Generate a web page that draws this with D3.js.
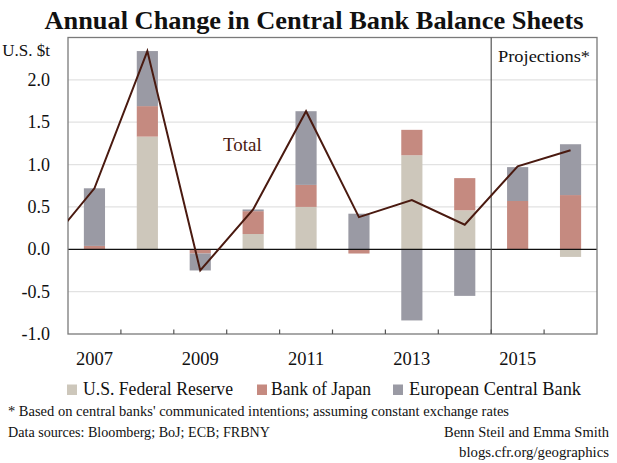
<!DOCTYPE html>
<html>
<head>
<meta charset="utf-8">
<script src="https://cdn.jsdelivr.net/npm/d3@7"></script>
<style>
  html, body { margin: 0; padding: 0; background: #fff; }
  svg { display: block; font-family: "Liberation Serif", "DejaVu Serif", serif; }
</style>
</head>
<body>
<svg id="chart" width="617" height="463"></svg>
<script>
// ---- data (US$ trillions, annual change) ----
const years = [2007, 2008, 2009, 2010, 2011, 2012, 2013, 2014, 2015, 2016];
const fedValues = [0.00, 1.33, 0.00, 0.18, 0.50, 0.00, 1.11, 0.46, 0.00, -0.09];
const bojValues = [0.04, 0.36, -0.05, 0.27, 0.26, -0.05, 0.30, 0.38, 0.57, 0.64];
const ecbValues = [0.68, 0.65, -0.20, 0.02, 0.87, 0.42, -0.84, -0.55, 0.40, 0.60];
const totalValues = [0.72, 2.34, -0.25, 0.47, 1.63, 0.38, 0.58, 0.29, 0.98, 1.17];
const priorYear = 2006;
const priorTotal = -0.04;
const seriesNames = ["U.S. Federal Reserve", "Bank of Japan", "European Central Bank"];
const seriesColors = ["#cdc7bb", "#c58a80", "#9a9aa4"];
const yTicks = [-1.0, -0.5, 0.0, 0.5, 1.0, 1.5, 2.0];
const xLabelYears = [2007, 2009, 2011, 2013, 2015];
const firstProjectionYear = 2015;

const svg = d3.select("#chart");
const m = { left: 68, right: 597, top: 37.5, bottom: 334 };

const x = d3.scaleBand().domain(years).range([m.left, m.right]).paddingInner(0.6).paddingOuter(0.3);
const step = x.step();
const y = d3.scaleLinear().domain([-1, 2.5]).range([m.bottom, m.top]);

// title
svg.append("text").attr("x", 314).attr("y", 29).attr("text-anchor", "middle")
  .attr("font-size", 25).attr("font-weight", "bold").attr("fill", "#111")
  .attr("textLength", 539).attr("lengthAdjust", "spacingAndGlyphs")
  .text("Annual Change in Central Bank Balance Sheets");

// gridlines
svg.append("g").selectAll("line").data(yTicks.filter(t => t !== 0 && t !== -1)).join("line")
  .attr("x1", m.left).attr("x2", m.right)
  .attr("y1", d => y(d)).attr("y2", d => y(d))
  .attr("stroke", "#e2e2e2").attr("stroke-width", 1.2);

// stacked bars
const table = years.map((yr, i) => ({ year: yr, fed: fedValues[i], boj: bojValues[i], ecb: ecbValues[i] }));
const stack = d3.stack().keys(["fed", "boj", "ecb"]).offset(d3.stackOffsetDiverging);
const stacked = stack(table);
svg.append("g").selectAll("g").data(stacked).join("g")
  .attr("fill", (d, i) => seriesColors[i])
  .selectAll("rect").data(d => d).join("rect")
  .attr("x", d => x(d.data.year))
  .attr("width", x.bandwidth())
  .attr("y", d => y(Math.max(d[0], d[1])))
  .attr("height", d => Math.abs(y(d[0]) - y(d[1])));

// zero line
svg.append("line").attr("x1", m.left).attr("x2", m.right)
  .attr("y1", y(0)).attr("y2", y(0)).attr("stroke", "#111").attr("stroke-width", 1.2);

// frame
const frame = svg.append("g").attr("stroke", "#7a7a7a").attr("stroke-width", 1.3).attr("fill", "none");
frame.append("rect").attr("x", m.left).attr("y", m.top).attr("width", m.right - m.left).attr("height", m.bottom - m.top);

// projection divider
const projX = x(firstProjectionYear) - (step - x.bandwidth()) / 2;
svg.append("line").attr("x1", projX).attr("x2", projX).attr("y1", m.top).attr("y2", m.bottom)
  .attr("stroke", "#555").attr("stroke-width", 1.2);

// x ticks (at band boundaries, pointing up)
const boundaries = years.slice(1).map(yr => x(yr) - (step - x.bandwidth()) / 2);
svg.append("g").selectAll("line").data(boundaries).join("line")
  .attr("x1", d => d).attr("x2", d => d).attr("y1", m.bottom).attr("y2", m.bottom - 4.5)
  .attr("stroke", "#555").attr("stroke-width", 1.2);

// x labels
svg.append("g").selectAll("text").data(xLabelYears).join("text")
  .attr("x", d => x(d) + x.bandwidth() / 2).attr("y", 365)
  .attr("text-anchor", "middle").attr("font-size", 18.5).attr("fill", "#111")
  .text(d => d);

// y labels
svg.append("g").selectAll("text").data(yTicks).join("text")
  .attr("x", 50).attr("y", d => y(d)).attr("dy", "0.34em")
  .attr("text-anchor", "end").attr("font-size", 18).attr("fill", "#111")
  .text(d => d3.format(".1f")(d).replace("−", "-"));
svg.append("text").attr("x", 50).attr("y", 56).attr("text-anchor", "end")
  .attr("font-size", 17).attr("fill", "#111").text("U.S. $t");

// total line (clipped to plot)
svg.append("clipPath").attr("id", "plotclip").append("rect")
  .attr("x", m.left).attr("y", m.top).attr("width", m.right - m.left).attr("height", m.bottom - m.top);
const cx = yr => x(yr) + x.bandwidth() / 2;
const linePts = [{ year: priorYear, v: priorTotal, px: cx(years[0]) - step }]
  .concat(years.map((yr, i) => ({ year: yr, v: totalValues[i], px: cx(yr) })));
svg.append("path").datum(linePts)
  .attr("clip-path", "url(#plotclip)")
  .attr("fill", "none").attr("stroke", "#4a1a10").attr("stroke-width", 2)
  .attr("stroke-linejoin", "miter")
  .attr("d", d3.line().x(d => d.px).y(d => y(d.v)));

svg.append("text").attr("x", 223).attr("y", 151).attr("font-size", 19).attr("fill", "#4a1a10").text("Total");
svg.append("text").attr("x", 498).attr("y", 62).attr("font-size", 17.5).attr("fill", "#111")
  .attr("textLength", 92).attr("lengthAdjust", "spacingAndGlyphs").text("Projections*");

// legend
const legendX = [67, 257, 393];
const legendW = [150, 100, 172];
const lg = svg.append("g").selectAll("g").data(seriesNames).join("g")
  .attr("transform", (d, i) => `translate(${legendX[i]},0)`);
lg.append("rect").attr("x", 0).attr("y", 384.5).attr("width", 10).attr("height", 10.5)
  .attr("fill", (d, i) => seriesColors[i]);
lg.append("text").attr("x", (d, i) => i === 1 ? 14 : 16).attr("y", 395)
  .attr("font-size", 19).attr("fill", "#111")
  .attr("textLength", (d, i) => legendW[i]).attr("lengthAdjust", "spacingAndGlyphs")
  .text(d => d);

// footnotes
svg.append("text").attr("x", 8).attr("y", 416).attr("font-size", 14.5).attr("fill", "#111")
  .attr("textLength", 501).attr("lengthAdjust", "spacingAndGlyphs")
  .text("* Based on central banks' communicated intentions; assuming constant exchange rates");
svg.append("text").attr("x", 8).attr("y", 437).attr("font-size", 14.5).attr("fill", "#111")
  .attr("textLength", 262).attr("lengthAdjust", "spacingAndGlyphs")
  .text("Data sources: Bloomberg; BoJ; ECB; FRBNY");
svg.append("text").attr("x", 444).attr("y", 437).attr("font-size", 15).attr("fill", "#111")
  .attr("textLength", 165).attr("lengthAdjust", "spacingAndGlyphs")
  .text("Benn Steil and Emma Smith");
svg.append("text").attr("x", 459).attr("y", 457).attr("font-size", 15).attr("fill", "#111")
  .attr("textLength", 150).attr("lengthAdjust", "spacingAndGlyphs")
  .text("blogs.cfr.org/geographics");
</script>
</body>
</html>
